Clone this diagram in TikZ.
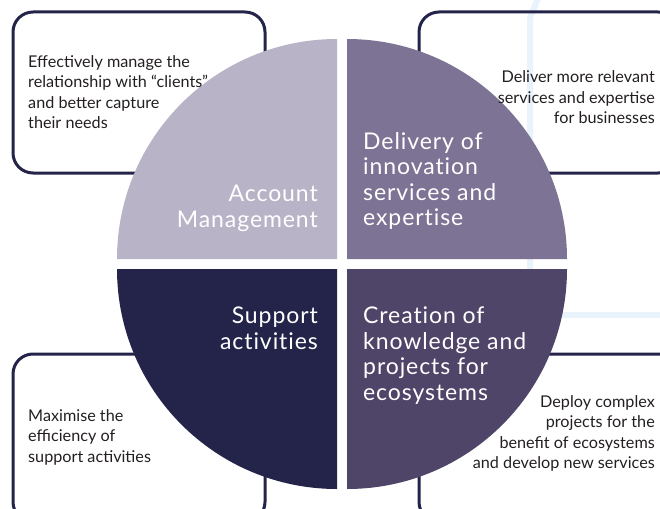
\documentclass[tikz,border=0pt]{standalone}
\usepackage{fontspec}
\setmainfont{Lato}
\newfontfamily\quadfont[LetterSpace=4,Ligatures=NoCommon]{Lato}
\definecolor{qtl}{HTML}{B9B3C7}
\definecolor{qtr}{HTML}{7D7394}
\definecolor{qbr}{HTML}{4F4568}
\definecolor{qbl}{HTML}{24244A}
\definecolor{navy}{HTML}{24244A}
\definecolor{stripe}{HTML}{E8F3FC}
\definecolor{txt}{HTML}{231F20}
\tikzset{
  goalbox/.style={draw=navy, line width=3pt, rounded corners=20pt},
  goaltext/.style={inner sep=0pt, text=txt, font=\fontsize{16.2}{20.5}\selectfont},
  quadtext/.style={inner sep=0pt, text=white, font=\quadfont\fontsize{23}{25.5}\selectfont},
}
\begin{document}
\begin{tikzpicture}[x=1pt,y=-1pt]
\useasboundingbox (0,0) rectangle (660,508);
\clip (0,0) rectangle (660,508);
% background stripe
\draw[stripe, line width=6pt] (538,-2) -- (530,18) -- (530,315) -- (670,315);
% boxes
\draw[goalbox] (13,12) rectangle (265,173);
\draw[goalbox] (419,12) rectangle (678,173);
\draw[goalbox] (13,354) rectangle (265,522);
\draw[goalbox] (419,354) rectangle (678,522);
% quadrants
\fill[qtl] (337,259) -- (117,259) arc[start angle=180,end angle=270,radius=220] -- cycle;
\fill[qtr] (347,259) -- (347,39) arc[start angle=270,end angle=360,radius=220] -- cycle;
\fill[qbr] (347,269) -- (567,269) arc[start angle=0,end angle=90,radius=220] -- cycle;
\fill[qbl] (337,269) -- (337,489) arc[start angle=90,end angle=180,radius=220] -- cycle;
% box texts
\node[goaltext, anchor=north west, align=left] (g1) at (28,55) {Effectively manage the\\relationship with “clients”\\and better capture\\their needs};
\node[goaltext, anchor=north east, align=right] (g2) at (655,70.5) {Deliver more relevant\\services and expertise\\for businesses};
\node[goaltext, anchor=north west, align=left] (g3) at (28,409) {Maximise the\\efficiency of\\support activities};
\node[goaltext, anchor=north east, align=right] (g4) at (655,395) {Deploy complex\\projects for the\\benefit of ecosystems\\and develop new services};
% quadrant texts
\node[quadtext, anchor=north east, align=right] (q1) at (318,185) {Account\\Management};
\node[quadtext, anchor=north west, align=left] (q2) at (363,132) {Delivery of\\innovation\\services and\\expertise};
\node[quadtext, anchor=north east, align=right] (q3) at (318,307) {Support\\activities};
\node[quadtext, anchor=north west, align=left] (q4) at (363,307) {Creation of\\knowledge and\\projects for\\ecosystems};
\end{tikzpicture}
\end{document}
